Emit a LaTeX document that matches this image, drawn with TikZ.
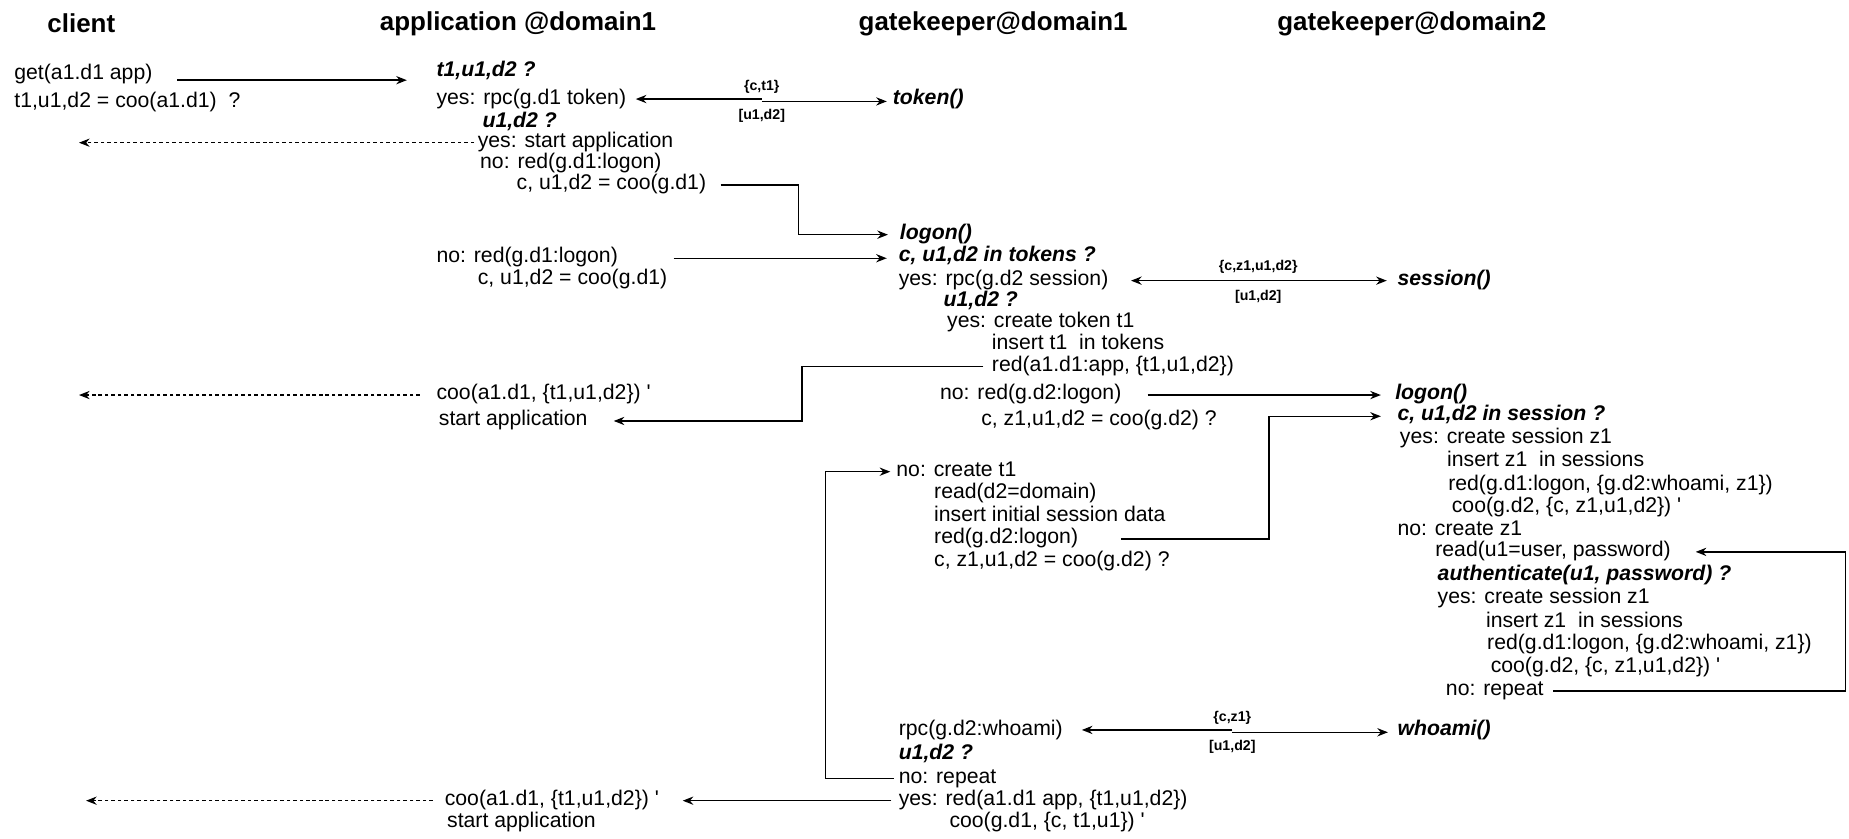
\documentclass[tikz,border=0pt]{standalone}
\usepackage{fontspec}
\setmainfont{Liberation Sans}
\usetikzlibrary{arrows.meta}
\newcommand{\msgsize}{\fontsize{18}{20}\selectfont}
\begin{document}
\begin{tikzpicture}[x=1pt,y=-1pt,
  txt/.style={anchor=west, inner sep=0pt, text height=12pt, text depth=4pt, font=\msgsize},
  qst/.style={txt, font=\msgsize\bfseries\itshape},
  hdr/.style={anchor=west, inner sep=0pt, font=\fontsize{22}{24}\selectfont\bfseries},
  lbl/.style={inner sep=0pt, font=\fontsize{12}{14}\selectfont\bfseries},
  arr/.style={draw, line width=1.2pt, line join=miter, -{Stealth[length=9pt,width=7pt]}},
  ret/.style={draw, line width=1pt, dash pattern=on 3pt off 2.5pt, -{Stealth[length=9pt,width=7pt]}}
]
\useasboundingbox (0,0) rectangle (1568,711);

% column headings
\node[hdr] (hcl) at (40,20)   {client};
\node[hdr] (hap) at (322,20)  {application @domain1};
\node[hdr] (hg1) at (728,20)  {gatekeeper@domain1};
\node[hdr] (hg2) at (1083,20) {gatekeeper@domain2};

% client
\node[txt] (get) at (12,63) {get(a1.d1 app)};
\node[txt] (cq)  at (12,87) {t1,u1,d2 = coo(a1.d1)\ \ ?};

% application @domain1
\node[qst] (aq1)  at (370,61)  {t1,u1,d2 ?};
\node[txt] (arpc) at (370,85)  {yes: rpc(g.d1 token)};
\node[qst] (aq2)  at (409,104) {u1,d2 ?};
\node[txt] (ayes) at (405,121) {yes: start application};
\node[txt] (ano)  at (407,139) {no: red(g.d1:logon)};
\node[txt] (acoo) at (438,157) {c, u1,d2 = coo(g.d1)};
\node[txt] (ano2)  at (370,219) {no: red(g.d1:logon)};
\node[txt] (acoo2) at (405,237) {c, u1,d2 = coo(g.d1)};
\node[txt] (acoo3)   at (370,335) {coo(a1.d1, \{t1,u1,d2\}) \textquotesingle};
\node[txt] (astart3) at (372,357) {start application};
\node[txt] (acoo4)   at (377,679) {coo(a1.d1, \{t1,u1,d2\}) \textquotesingle};
\node[txt] (astart4) at (379,698) {start application};

% gatekeeper@domain1
\node[qst] (gtok)  at (757,85)  {token()};
\node[qst] (glog)  at (763,199) {logon()};
\node[qst] (gq)    at (762,218) {c, u1,d2 in tokens ?};
\node[txt] (grpc)  at (762,238) {yes: rpc(g.d2 session)};
\node[qst] (gq2)   at (800,256) {u1,d2 ?};
\node[txt] (gyes)  at (803,274) {yes: create token t1};
\node[txt] (gins)  at (841,292) {insert t1\ \ in tokens};
\node[txt] (gred)  at (841,311) {red(a1.d1:app, \{t1,u1,d2\})};
\node[txt] (gno)   at (797,335) {no: red(g.d2:logon)};
\node[txt] (gcoo)  at (832,357) {c, z1,u1,d2 = coo(g.d2) ?};
\node[txt] (gnot)  at (760,400) {no: create t1};
\node[txt] (gread) at (792,419) {read(d2=domain)};
\node[txt] (ginit) at (792,438) {insert initial session data};
\node[txt] (gred2) at (792,457) {red(g.d2:logon)};
\node[txt] (gcoo2) at (792,476) {c, z1,u1,d2 = coo(g.d2) ?};
\node[txt] (grpc2) at (762,620) {rpc(g.d2:whoami)};
\node[qst] (gq3)   at (762,640) {u1,d2 ?};
\node[txt] (grep)  at (762,660) {no: repeat};
\node[txt] (gyes2) at (762,679) {yes: red(a1.d1 app, \{t1,u1,d2\})};
\node[txt] (gcoo3) at (805,698) {coo(g.d1, \{c, t1,u1\}) \textquotesingle};

% gatekeeper@domain2
\node[qst] (ssess) at (1185,238) {session()};
\node[qst] (slog)  at (1183,335) {logon()};
\node[qst] (sq)    at (1185,353) {c, u1,d2 in session ?};
\node[txt] (syes)  at (1187,372) {yes: create session z1};
\node[txt] (sins)  at (1227,392) {insert z1\ \ in sessions};
\node[txt] (sred)  at (1228,412) {red(g.d1:logon, \{g.d2:whoami, z1\})};
\node[txt] (scoo)  at (1231,431) {coo(g.d2, \{c, z1,u1,d2\}) \textquotesingle};
\node[txt] (sno)   at (1185,450) {no: create z1};
\node[txt] (sread) at (1217,468) {read(u1=user, password)};
\node[qst] (sauth) at (1219,488) {authenticate(u1, password) ?};
\node[txt] (syes2) at (1219,508) {yes: create session z1};
\node[txt] (sins2) at (1260,528) {insert z1\ \ in sessions};
\node[txt] (sred2) at (1261,547) {red(g.d1:logon, \{g.d2:whoami, z1\})};
\node[txt] (scoo2) at (1264,566) {coo(g.d2, \{c, z1,u1,d2\}) \textquotesingle};
\node[txt] (srep)  at (1226,586) {no: repeat};
\node[qst] (swho)  at (1185,620) {whoami()};

% helper points for bends and free ends
\coordinate (clA) at (67,0);
\coordinate (clB) at (73,0);
\coordinate (bA)  at (677,0);
\coordinate (bB)  at (680,0);
\coordinate (bC)  at (1076,0);
\coordinate (bD)  at (700,0);
\coordinate (bE)  at (1565,0);
\coordinate (mT)  at (646,85);
\coordinate (mS)  at (1067,238);
\coordinate (mW)  at (1045,620);

% client request
\draw[arr] ([xshift=21pt,yshift=-5pt]get.east) -- ([xshift=-25pt,yshift=-5pt]aq1.west |- get.east);

% token rpc
\draw[arr] ([yshift=1pt]mT) -- ([xshift=8pt,yshift=1pt]arpc.east);
\draw[arr] ([yshift=-1pt]mT) -- ([xshift=-5pt,yshift=-1pt]gtok.west);
\node[lbl] (lt1) at ([yshift=11pt]mT)  {\{c,t1\}};
\node[lbl] (lt2) at ([yshift=-13pt]mT) {[u1,d2]};

% start application
\draw[ret] ([xshift=-3pt]ayes.west) -- (clA |- ayes.west);

% redirect to logon
\draw[arr] ([xshift=12pt]acoo.east) -- (bA |- acoo.east) -- (bA |- glog.west) -- ([xshift=-10pt]glog.west);
\draw[arr] ([xshift=47pt]ano2.east) -- ([xshift=-10pt]gq.west |- ano2.east);

% session rpc
\draw[arr] (mS) -- ([xshift=19pt]grpc.east);
\draw[arr] (mS) -- ([xshift=-9pt]ssess.west);
\node[lbl] (ls1) at ([yshift=12pt]mS)  {\{c,z1,u1,d2\}};
\node[lbl] (ls2) at ([yshift=-14pt]mS) {[u1,d2]};

% token redirect back to application
\draw[arr] ([xshift=-7pt]gred.west) -- (bB |- gred.west) -- (bB |- astart3.east) -- ([xshift=22pt]astart3.east);
\draw[ret] ([xshift=-14pt]acoo3.west) -- (clA |- acoo3.west);

% redirect to domain2 logon
\draw[arr] ([xshift=22pt]gno.east) -- ([xshift=-12pt]slog.west |- gno.east);
\draw[arr] ([xshift=36pt]gred2.east) -- (bC |- gred2.east) -- (bC |- sq.west) -- ([xshift=-14pt]sq.west);

% repeat loop in gatekeeper@domain1
\draw[arr] ([xshift=-4pt]grep.west) -- (bD |- grep.west) -- (bD |- gnot.west) -- ([xshift=-5pt]gnot.west);

% final redirect
\draw[arr] ([xshift=-6pt]gyes2.west) -- ([xshift=20pt]acoo4.east |- gyes2.west);
\draw[ret] ([xshift=-10pt]acoo4.west) -- (clB |- acoo4.west);

% whoami rpc
\draw[arr] ([yshift=1pt]mW) -- ([xshift=16pt,yshift=1pt]grpc2.east);
\draw[arr] ([yshift=-1pt]mW) -- ([xshift=-8pt,yshift=-1pt]swho.west);
\node[lbl] (lw1) at ([yshift=11pt]mW)  {\{c,z1\}};
\node[lbl] (lw2) at ([yshift=-13pt]mW) {[u1,d2]};

% password loop
\draw[arr] ([xshift=8pt]srep.east) -- (bE |- srep.east) -- (bE |- sread.east) -- ([xshift=21pt]sread.east);
\end{tikzpicture}
\end{document}
